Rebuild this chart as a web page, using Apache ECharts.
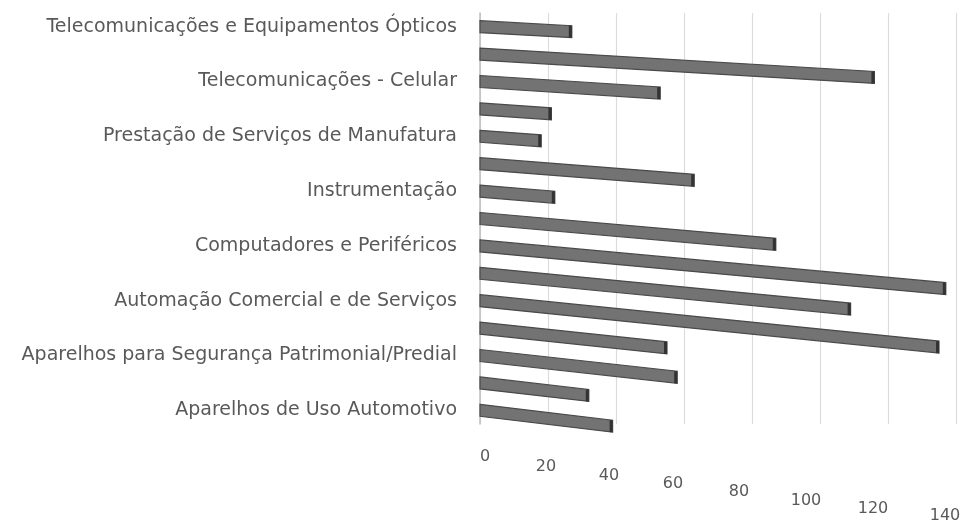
<!DOCTYPE html>
<html>
<head>
<meta charset="utf-8">
<script src="https://cdn.jsdelivr.net/npm/echarts@6/dist/echarts.min.js"></script>
<style>
  html, body { margin: 0; padding: 0; background: #fff; }
  #main { width: 965px; height: 527px; }
</style>
</head>
<body>
<div id="main"></div>
<script>
// categories, bottom to top (only every other one shows a label)
var categories = [
    'Aparelhos de Uso Automotivo',
    'Aparelhos Eletromédicos',
    'Aparelhos para Segurança Patrimonial/Predial',
    'Automação Bancária',
    'Automação Comercial e de Serviços',
    'Automação Industrial',
    'Computadores e Periféricos',
    'Eletrônica de Consumo',
    'Instrumentação',
    'Outros',
    'Prestação de Serviços de Manufatura',
    'Semicondutores',
    'Telecomunicações - Celular',
    'Telecomunicações - Redes',
    'Telecomunicações e Equipamentos Ópticos'
];
var values = [39, 32, 58, 55, 135, 109, 137, 87, 22, 63, 18, 21, 53, 116, 27];
var xTicks = [0, 20, 40, 60, 80, 100, 120, 140];

var myChart = echarts.init(document.getElementById('main'));

// perspective look of the original: tick labels drift down and left
var tickDrop = [0, 10, 19, 27, 35, 44, 52, 59];
var tickShift = [5, -2, -7, -11, -13, -14, -15, -11];
var rich = {};
xTicks.forEach(function (t, i) {
    var s = tickShift[i];
    rich['t' + i] = {
        fontFamily: 'DejaVu Sans',
        fontSize: 16,
        color: '#595959',
        padding: [tickDrop[i], s < 0 ? -2 * s : 0, 0, s > 0 ? 2 * s : 0]
    };
});

var seriesData = values.map(function (v, i) {
    return [v, i];
});

function renderBar(params, api) {
    var val = api.value(0);
    var cat = api.value(1);
    var p0 = api.coord([0, cat]);
    var p1 = api.coord([val, cat]);
    var h = 12;
    var k = 0.05 + 0.00017 * p0[1];     // slant grows lower down
    var dy = (p1[0] - p0[0]) * k;
    var x0 = p0[0], y0 = p0[1] - h / 2;
    var x1 = p1[0], y1 = y0 + dy;
    return {
        type: 'group',
        children: [{
            type: 'polygon',
            shape: {points: [[x0, y0], [x1, y1], [x1, y1 + h], [x0, y0 + h]]},
            style: {fill: '#737373', stroke: '#4a4a4a', lineWidth: 1.2}
        }, {
            type: 'polygon',
            shape: {points: [[x1 - 3, y1], [x1, y1], [x1, y1 + h], [x1 - 3, y1 + h]]},
            style: {fill: '#333333'}
        }]
    };
}

var option = {
    animation: false,
    grid: {
        left: 480,
        right: 9,
        top: 13,
        bottom: 103
    },
    xAxis: {
        type: 'value',
        min: 0,
        max: 140,
        interval: 20,
        axisLine: {show: false},
        axisTick: {show: false},
        splitLine: {lineStyle: {color: '#dcdcdc', width: 1.2}},
        axisLabel: {
            margin: 25,
            formatter: function (value) {
                var i = xTicks.indexOf(value);
                return '{t' + i + '|' + value + '}';
            },
            rich: rich
        }
    },
    yAxis: {
        type: 'category',
        data: categories,
        axisLine: {show: true, lineStyle: {color: '#bfbfbf', width: 1.5}},
        axisTick: {show: false},
        axisLabel: {
            interval: 1,
            margin: 23,
            fontFamily: 'DejaVu Sans',
            fontSize: 19,
            color: '#595959'
        }
    },
    series: [{
        type: 'custom',
        renderItem: renderBar,
        encode: {x: 0, y: 1},
        data: seriesData
    }]
};
myChart.setOption(option);
</script>
</body>
</html>
